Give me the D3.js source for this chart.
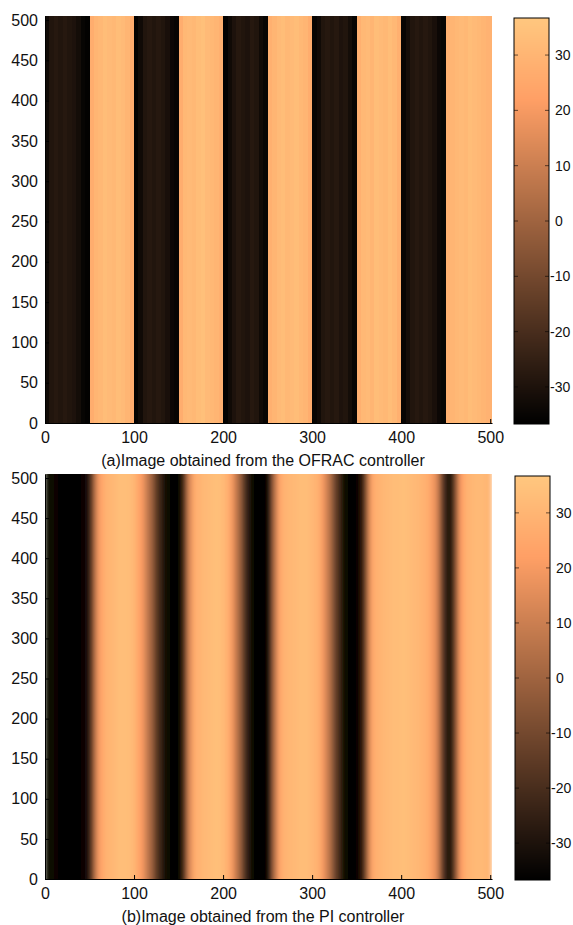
<!DOCTYPE html>
<html>
<head>
<meta charset="utf-8">
<script src="https://cdn.jsdelivr.net/npm/d3@7"></script>
<style>
  body { margin: 0; background: #fff; }
  text { font-family: "Liberation Sans", Arial, sans-serif; fill: #111; }
</style>
</head>
<body>
<svg id="chart" width="573" height="925"></svg>
<script>
// Column profiles (value per 5-unit column along x, constant along y)
const columnStep = 5;

const ofracProfile = [
  -33, -29, -28, -29, -28, -29, -30, -32, -35, -36,
   27,  30,  31,  33,  32,  31,  33,  32,  30,  27,
  -36, -33, -29, -28, -29, -28, -29, -31, -34, -35,
   27,  31,  32,  31,  33,  34,  32,  31,  30,  28,
  -36, -33, -30, -28, -29, -30, -28, -29, -33, -35,
   28,  30,  32,  33,  31,  32,  33,  31,  30,  27,
  -35, -33, -29, -28, -29, -28, -30, -29, -32, -35,
   28,  31,  32,  30,  33,  32,  31,  33,  31,  28,
  -35, -32, -29, -28, -29, -28, -29, -31, -34, -35,
   28,  30,  31,  32,  31,  33,  32,  31,  30,  29
];

const piProfile = [
  -33, -34, -35, -36, -36, -36, -36, -36, -35, -31,
  -14,  10,  23,  28,  30,  31,  33,  34,  33,  32,
   28,  22,  14,   4,  -8, -20, -29, -34, -36, -36,
  -34, -14,  13,  26,  29,  31,  32,  33,  34,  33,
   30,  24,  15,   3, -12, -26, -33, -36, -36, -36,
  -26,   4,  23,  28,  30,  31,  32,  33,  33,  32,
   30,  27,  20,  10,  -2, -15, -27, -34, -36, -36,
  -35, -22,   6,  24,  28,  30,  31,  32,  33,  33,
   34,  33,  32,  31,  30,  28,  25,  18,   5, -18,
  -33, -24,   2,  22,  28,  30,  31,  32,  31,  30
];

const xTicks = [0, 100, 200, 300, 400, 500];
const yTicks = [0, 50, 100, 150, 200, 250, 300, 350, 400, 450, 500];
const colorbarTicks = [-30, -20, -10, 0, 10, 20, 30];
const colorDomain = [-36.7, 36.7];
const captions = [
  "(a)Image obtained from the OFRAC controller",
  "(b)Image obtained from the PI controller"
];

// MATLAB-style "copper" colormap
function copper(t) {
  t = Math.max(0, Math.min(1, t));
  const r = Math.min(1, 1.25 * t), g = 0.7812 * t, b = 0.4975 * t;
  return d3.rgb(r * 255, g * 255, b * 255).toString();
}
const tScale = d3.scaleLinear().domain(colorDomain).range([0, 1]).clamp(true);
const color = v => copper(tScale(v));

const svg = d3.select("#chart");
const defs = svg.append("defs");

defs.append("filter")
  .attr("id", "smoothX")
  .attr("x", 0).attr("y", 0).attr("width", 1).attr("height", 1)
  .append("feGaussianBlur")
  .attr("stdDeviation", "2.2 0");

const panels = [
  { profile: ofracProfile, caption: captions[0], left: 45, right: 492, top: 16, bottom: 423,
    cb: { x: 514, w: 35, top: 18, bottom: 424 }, capY: 466, blur: false },
  { profile: piProfile, caption: captions[1], left: 45, right: 492, top: 474, bottom: 879,
    cb: { x: 515, w: 35, top: 476, bottom: 880 }, capY: 922, blur: true }
];

panels.forEach((p, k) => {
  const xs = d3.scaleLinear().domain([0, 502]).range([p.left, p.right]);
  const ys = d3.scaleLinear().domain([0, 505]).range([p.bottom, p.top]);

  const clipId = "clip" + k;
  defs.append("clipPath").attr("id", clipId)
    .append("rect")
    .attr("x", p.left).attr("y", p.top)
    .attr("width", p.right - p.left).attr("height", p.bottom - p.top);

  const g = svg.append("g").attr("clip-path", `url(#${clipId})`);
  const heat = g.append("g").attr("shape-rendering", "crispEdges");
  if (p.blur) heat.attr("filter", "url(#smoothX)");

  const n = p.profile.length;
  heat.selectAll("rect")
    .data(p.profile)
    .join("rect")
    .attr("x", (d, i) => xs(i * columnStep))
    .attr("width", (d, i) => {
      const x1 = i === n - 1 ? xs.domain()[1] : (i + 1) * columnStep;
      return xs(x1) - xs(i * columnStep) + 0.3;
    })
    .attr("y", ys(ys.domain()[1]))
    .attr("height", ys(ys.domain()[0]) - ys(ys.domain()[1]))
    .attr("fill", d => color(d));

  // Axes
  const xAxis = d3.axisBottom(xs).tickValues(xTicks).tickSizeInner(-4).tickSizeOuter(0).tickPadding(9);
  const gx = svg.append("g").attr("transform", `translate(0,${p.bottom})`).call(xAxis);
  gx.select(".domain").attr("stroke", "#000");
  gx.selectAll("text").style("font-size", "16px").attr("fill", "#111");

  const yAxis = d3.axisLeft(ys).tickValues(yTicks).tickSizeInner(-4).tickSizeOuter(0).tickPadding(7);
  const gy = svg.append("g").attr("transform", `translate(${p.left},0)`).call(yAxis);
  gy.select(".domain").attr("stroke", "#000");
  gy.selectAll("text").style("font-size", "16px").attr("fill", "#111");
  gy.selectAll(".tick line").attr("stroke", "#000");
  gx.selectAll(".tick line").attr("stroke", "#000");

  // Caption
  svg.append("text")
    .attr("x", 263)
    .attr("y", p.capY)
    .attr("text-anchor", "middle")
    .style("font-size", "16px")
    .text(p.caption);

  // Colorbar: one strip per pixel row, coloured through the same scale
  const cs = d3.scaleLinear().domain(colorDomain).range([p.cb.bottom, p.cb.top]);
  const rows = d3.range(p.cb.top, p.cb.bottom, 1);
  const cb = svg.append("g");
  cb.append("g").attr("shape-rendering", "crispEdges")
    .selectAll("rect")
    .data(rows)
    .join("rect")
    .attr("x", p.cb.x)
    .attr("width", p.cb.w)
    .attr("y", d => d)
    .attr("height", 1.05)
    .attr("fill", d => color(cs.invert(d + 0.5)));
  cb.append("rect")
    .attr("x", p.cb.x).attr("y", p.cb.top)
    .attr("width", p.cb.w).attr("height", p.cb.bottom - p.cb.top)
    .attr("fill", "none").attr("stroke", "#000").attr("stroke-width", 1);

  colorbarTicks.forEach(v => {
    const y = cs(v);
    cb.append("line").attr("x1", p.cb.x).attr("x2", p.cb.x + 4)
      .attr("y1", y).attr("y2", y).attr("stroke", "#000").attr("stroke-opacity", 0.6);
    cb.append("line").attr("x1", p.cb.x + p.cb.w - 4).attr("x2", p.cb.x + p.cb.w)
      .attr("y1", y).attr("y2", y).attr("stroke", "#000").attr("stroke-opacity", 0.6);
    cb.append("text")
      .attr("x", v < 0 ? p.cb.x + p.cb.w + 1 : p.cb.x + p.cb.w + 6)
      .attr("y", y)
      .attr("dy", "0.35em")
      .style("font-size", "14px")
      .text(v);
  });
});
</script>
</body>
</html>
